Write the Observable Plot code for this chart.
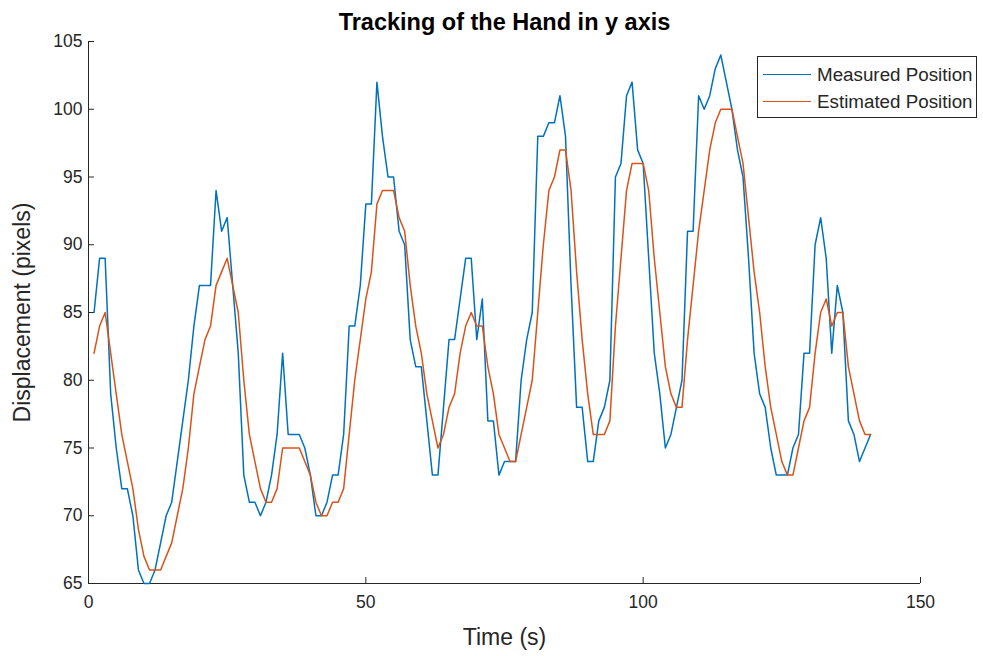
<!DOCTYPE html>
<html>
<head>
<meta charset="utf-8">
<script src="https://cdn.jsdelivr.net/npm/d3@7"></script>
<script src="https://cdn.jsdelivr.net/npm/@observablehq/plot@0.6"></script>
<style>
  body { margin: 0; background: #fff; }
  #wrap { position: relative; width: 983px; height: 656px; font-family: "Liberation Sans", Arial, sans-serif; }
  #legend { position: absolute; left: 757px; top: 56px; width: 220px; height: 62px; border: 1px solid #262626; background: #fff; box-sizing: border-box; }
  .entry { position: absolute; left: 0; height: 22px; width: 220px; }
  .swatch { position: absolute; left: 5px; width: 48px; top: 10px; height: 0; border-top: 1.5px solid; }
  .lab { position: absolute; left: 59px; top: 0; font-size: 18.8px; line-height: 22px; color: #262626; white-space: nowrap; }
</style>
</head>
<body>
<div id="wrap"></div>
<script>
// Data: sample index (time, s) 1..141
const measured = [
  85,89,89,79,75,72,72,70,66,65,
  65,66,68,70,71,74,77,80,84,87,
  87,87,94,91,92,87,82,73,71,71,
  70,71,73,76,82,76,76,76,75,73,
  70,70,71,73,73,76,84,84,87,93,
  93,102,98,95,95,91,90,83,81,81,
  77,73,73,78,83,83,86,89,89,83,
  86,77,77,73,74,74,74,80,83,85,
  98,98,99,99,101,98,87,78,78,74,
  74,77,78,80,95,96,101,102,97,96,
  89,82,79,75,76,78,80,91,91,101,
  100,101,103,104,102,100,97,95,89,82,
  79,78,75,73,73,73,75,76,82,82,
  90,92,89,82,87,85,77,76,74,75,
  76
];
const estimated = [
  82,84,85,82,79,76,74,72,69,67,
  66,66,66,67,68,70,72,75,79,81,
  83,84,87,88,89,87,85,80,76,74,
  72,71,71,72,75,75,75,75,74,73,
  71,70,70,71,71,72,76,80,83,86,
  88,93,94,94,94,92,91,87,84,82,
  79,77,75,76,78,79,82,84,85,84,
  84,81,79,76,75,74,74,76,78,80,
  85,90,94,95,97,97,94,88,83,79,
  76,76,76,77,84,89,94,96,96,96,
  94,89,85,81,79,78,78,83,87,91,
  94,97,99,100,100,100,98,96,92,88,
  85,81,78,76,74,73,73,75,77,78,
  82,85,86,84,85,85,81,79,77,76,
  76
];
const time = measured.map((_, i) => i + 1);
const xTicks = [0, 50, 100, 150];
const yTicks = [65, 70, 75, 80, 85, 90, 95, 100, 105];
const seriesNames = ["Measured Position", "Estimated Position"];
const seriesColors = ["#0072BD", "#D95319"];
const titleText = "Tracking of the Hand in y axis";
const xLabel = "Time (s)";
const yLabel = "Displacement (pixels)";

const ink = "#262626";
const xMin = 0, xMax = 150, yMin = 65, yMax = 105;
// inward tick lengths expressed in data units (≈6px)
const tickLenX = (yMax - yMin) * 6 / 542;
const tickLenY = (xMax - xMin) * 6 / 832;

const plot = Plot.plot({
  width: 983,
  height: 656,
  marginLeft: 88,
  marginRight: 63,
  marginTop: 41,
  marginBottom: 73,
  style: { fontFamily: "'Liberation Sans', Arial, sans-serif", fontSize: "17.5px", color: ink, background: "#fff", overflow: "visible" },
  x: { domain: [xMin, xMax] },
  y: { domain: [yMin, yMax] },
  marks: [
    Plot.ruleY([yMin], { stroke: ink, strokeWidth: 1 }),
    Plot.ruleX([xMin], { stroke: ink, strokeWidth: 1 }),
    Plot.ruleX(xTicks, { x: d => d, y1: yMin, y2: yMin + tickLenX, stroke: ink, strokeWidth: 1 }),
    Plot.ruleY(yTicks, { y: d => d, x1: xMin, x2: xMin + tickLenY, stroke: ink, strokeWidth: 1 }),
    Plot.axisX(xTicks, { tickSize: 0, tickPadding: 12, label: null, fill: ink, fontSize: 17.5 }),
    Plot.axisY(yTicks, { tickSize: 0, tickPadding: 6, label: null, fill: ink, fontSize: 17.5 }),
    Plot.line(measured, { x: (d, i) => time[i], y: d => d, stroke: seriesColors[0], strokeWidth: 1.5 }),
    Plot.line(estimated, { x: (d, i) => time[i], y: d => d, stroke: seriesColors[1], strokeWidth: 1.5 }),
    Plot.text([titleText], { frameAnchor: "top", dy: -19, lineAnchor: "middle", fontWeight: "bold", fontSize: 23.5, fill: "#000" }),
    Plot.text([xLabel], { frameAnchor: "bottom", dy: 54, lineAnchor: "middle", fontSize: 23, fill: ink }),
    Plot.text([yLabel], { frameAnchor: "left", dx: -66, textAnchor: "middle", lineAnchor: "middle", rotate: -90, fontSize: 23, fill: ink })
  ]
});
const wrap = document.getElementById("wrap");
wrap.appendChild(plot);

const legend = document.createElement("div");
legend.id = "legend";
seriesNames.forEach((name, i) => {
  const e = document.createElement("div");
  e.className = "entry";
  e.style.top = (7 + i * 27) + "px";
  const sw = document.createElement("div");
  sw.className = "swatch";
  sw.style.borderTopColor = seriesColors[i];
  const lb = document.createElement("div");
  lb.className = "lab";
  lb.textContent = name;
  e.appendChild(sw);
  e.appendChild(lb);
  legend.appendChild(e);
});
wrap.appendChild(legend);
</script>
</body>
</html>
